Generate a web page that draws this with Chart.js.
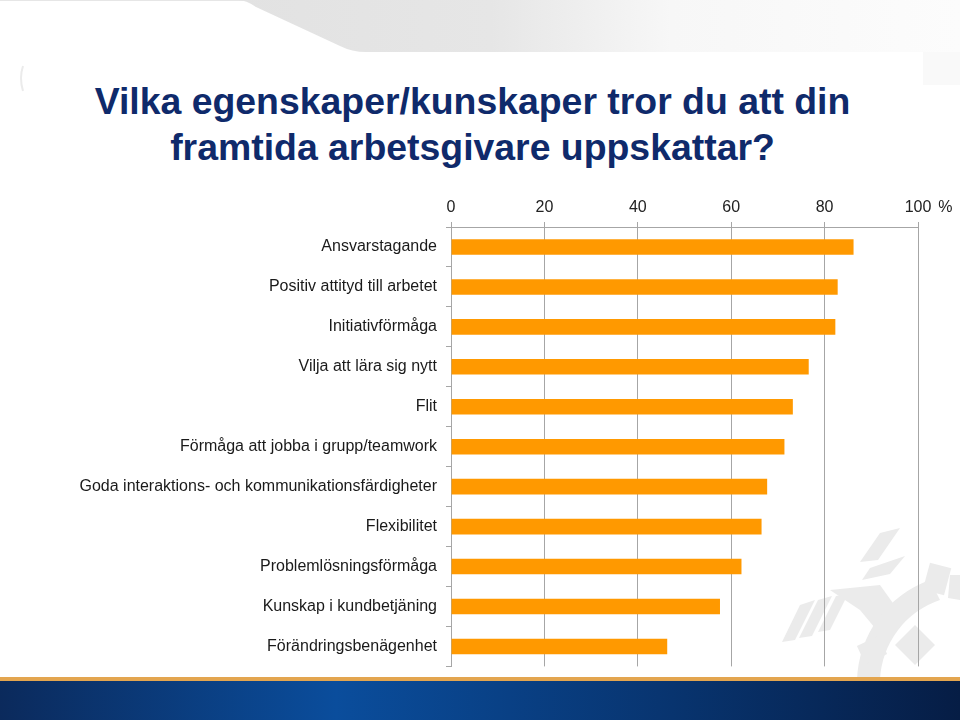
<!DOCTYPE html>
<html>
<head>
<meta charset="utf-8">
<script src="https://cdn.jsdelivr.net/npm/chart.js@4.4.0/dist/chart.umd.min.js"></script>
<style>
  html, body { margin: 0; padding: 0; background: #ffffff; }
  #page { position: relative; width: 960px; height: 720px; overflow: hidden; background: #ffffff; font-family: "Liberation Sans", Arial, sans-serif; }
  #deco { position: absolute; left: 0; top: 0; }
  #title { position: absolute; left: 0; width: 945px; top: 78px; text-align: center; font-weight: bold; font-size: 37.4px; line-height: 46.4px; color: #0f2a6b; }
  #chartWrap { position: absolute; left: 0; top: 185px; width: 960px; height: 500px; }
</style>
</head>
<body>
<div id="page">
  <svg id="deco" width="960" height="720" xmlns="http://www.w3.org/2000/svg">
    <defs>
      <linearGradient id="topBand" x1="0" y1="0" x2="1" y2="0">
        <stop offset="0" stop-color="#e2e2e2"/>
        <stop offset="0.35" stop-color="#e6e6e6"/>
        <stop offset="0.6" stop-color="#f7f7f7"/>
        <stop offset="1" stop-color="#fcfcfc"/>
      </linearGradient>
      <linearGradient id="bottomBand" x1="0" y1="0" x2="1" y2="0">
        <stop offset="0" stop-color="#0b2a5c"/>
        <stop offset="0.35" stop-color="#0a4d9c"/>
        <stop offset="0.7" stop-color="#08346f"/>
        <stop offset="1" stop-color="#061d45"/>
      </linearGradient>
    </defs>
    <line x1="0" y1="0.5" x2="250" y2="0.5" stroke="#e6e6e6" stroke-width="1"/>
    <path d="M238,0 Q246,0 256,7 L340,46 Q352,52 366,52 L960,52 L960,0 Z" fill="url(#topBand)"/>
    <rect x="923" y="52" width="37" height="33" fill="#f9f9f9"/>
    <path d="M23,66 Q19,78 23,91" stroke="#ebebeb" stroke-width="2" fill="none"/>
    <!-- watermark -->
    <g fill="#ebebeb">
      <path d="M880,533 L900,528 L878,560 L860,562 Z"/>
      <path d="M870,568 L905,556 L890,574 L862,580 Z"/>
      <path d="M830,590 L880,585 L905,620 L885,640 L860,610 Z"/>
      <path d="M800,605 L815,600 L795,640 L782,642 Z"/>
      <path d="M818,600 L832,596 L812,636 L799,638 Z"/>
      <path d="M836,596 L848,594 L830,630 L818,632 Z"/>
      <path d="M950,575 L960,575 L960,600 L948,598 Z"/>
      <path d="M857,680 A110,110 0 0 1 930,580 L940,600 A88,88 0 0 0 880,680 Z"/>
      <path d="M915,625 L935,645 L915,665 L895,645 Z"/>
      <rect x="926" y="565" width="22" height="28" transform="rotate(15 937 579)"/>
      <rect x="860" y="640" width="24" height="20" transform="rotate(-25 872 650)"/>
    </g>
    <rect x="0" y="677" width="960" height="4" fill="#e3a54f"/>
    <rect x="0" y="681" width="960" height="39" fill="url(#bottomBand)"/>
  </svg>
  <div id="title">Vilka egenskaper/kunskaper tror du att din<br>framtida arbetsgivare uppskattar?</div>
  <div id="chartWrap"><canvas id="c" width="960" height="500"></canvas></div>
</div>
<script>
const categories = [
  "Ansvarstagande",
  "Positiv attityd till arbetet",
  "Initiativförmåga",
  "Vilja att lära sig nytt",
  "Flit",
  "Förmåga att jobba i grupp/teamwork",
  "Goda interaktions- och kommunikationsfärdigheter",
  "Flexibilitet",
  "Problemlösningsförmåga",
  "Kunskap i kundbetjäning",
  "Förändringsbenägenhet"
];
const values = [86.2, 82.8, 82.3, 76.6, 73.2, 71.4, 67.7, 66.5, 62.2, 57.6, 46.3];
const xTicks = [0, 20, 40, 60, 80, 100];
const unitLabel = "%";

const FONT = "'Liberation Sans', Arial, sans-serif";
const FSIZE = 16;
const GRID = "#a6a6a6";

const percentPlugin = {
  id: 'percentLabel',
  afterDraw(chart) {
    const x = chart.scales.x;
    const ctx = chart.ctx;
    ctx.save();
    ctx.font = FSIZE + "px " + FONT;
    ctx.fillStyle = "#222222";
    ctx.textAlign = "left";
    ctx.textBaseline = "middle";
    const px = x.getPixelForValue(xTicks[xTicks.length - 1]);
    const w = ctx.measureText(String(xTicks[xTicks.length - 1])).width;
    ctx.fillText(unitLabel, px + w / 2 + 7, x.bottom - 5 - 5 - FSIZE * 0.6);
    ctx.restore();
  }
};

new Chart(document.getElementById('c'), {
  type: 'bar',
  data: {
    labels: categories,
    datasets: [{
      data: values,
      backgroundColor: '#ff9900',
      borderWidth: 0,
      barPercentage: 0.39,
      categoryPercentage: 1.0
    }]
  },
  options: {
    indexAxis: 'y',
    responsive: false,
    devicePixelRatio: 1,
    animation: false,
    layout: { padding: { left: 0, right: 42, top: 0, bottom: 0 } },
    plugins: { legend: { display: false }, tooltip: { enabled: false }, title: { display: false } },
    scales: {
      x: {
        position: 'top',
        min: 0,
        max: 100,
        afterBuildTicks(scale) { scale.ticks = xTicks.map(v => ({ value: v })); },
        afterFit(scale) { scale.height = 42; },
        ticks: { color: '#222222', font: { family: FONT, size: FSIZE }, padding: 5, maxRotation: 0 },
        grid: { color: GRID, lineWidth: 1, tickLength: 5, drawTicks: true },
        border: { display: true, color: GRID, width: 1 }
      },
      y: {
        afterFit(scale) { scale.width = 451; },
        ticks: { color: '#1a1a1a', font: { family: FONT, size: FSIZE }, padding: 9, autoSkip: false },
        grid: { display: true, drawOnChartArea: false, color: GRID, tickLength: 5, offset: true },
        border: { display: true, color: GRID, width: 1 }
      }
    }
  },
  plugins: [percentPlugin]
});
</script>
</body>
</html>
